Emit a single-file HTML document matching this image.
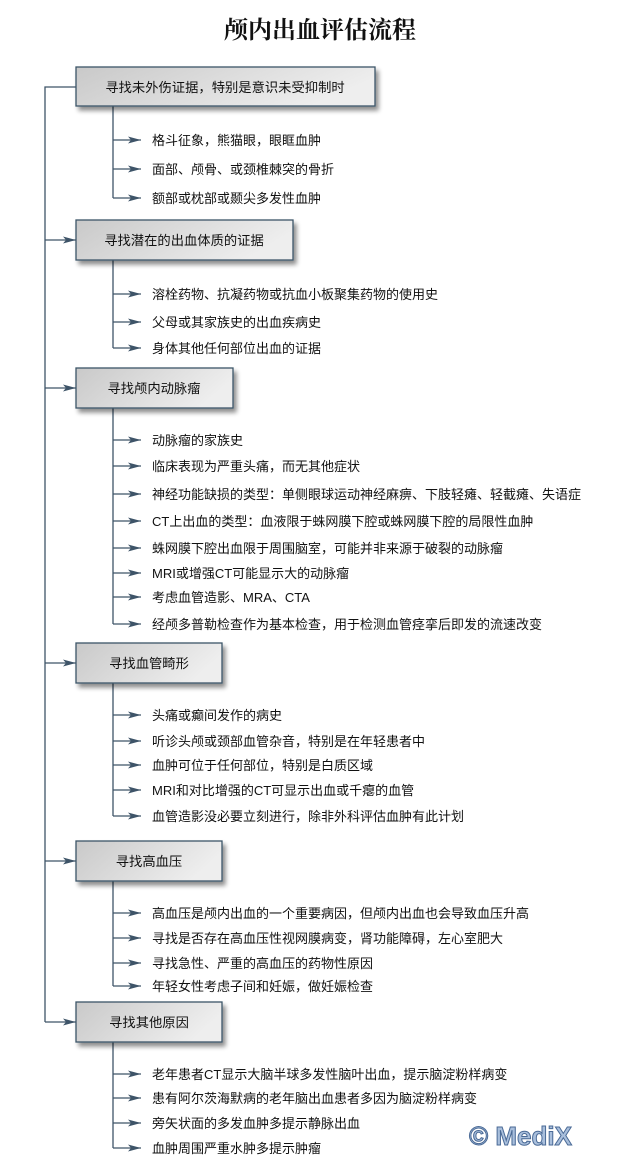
<!DOCTYPE html>
<html><head><meta charset="utf-8"><style>
html,body{margin:0;padding:0;background:#fff;}
svg text{font-family:"Liberation Sans","Noto Sans CJK SC",sans-serif;}
</style></head><body>
<svg width="642" height="1166" viewBox="0 0 642 1166" xmlns="http://www.w3.org/2000/svg">
<defs>
<linearGradient id="g" x1="0" y1="0" x2="1" y2="0.3">
<stop offset="0" stop-color="#c9c9c9"/><stop offset="1" stop-color="#eeeeee"/>
</linearGradient>
<filter id="s" x="-10%" y="-20%" width="130%" height="160%">
<feGaussianBlur in="SourceAlpha" stdDeviation="2.5"/><feOffset dx="3" dy="4"/>
<feComponentTransfer><feFuncA type="linear" slope="0.45"/></feComponentTransfer>
<feMerge><feMergeNode/><feMergeNode in="SourceGraphic"/></feMerge>
</filter>
<marker id="a" markerWidth="14" markerHeight="10" refX="13" refY="5" orient="auto" markerUnits="userSpaceOnUse">
<path d="M0,1.5 L13,5 L0,8.5 L3,5 Z" fill="#3e5468"/>
</marker>
</defs>
<text x="320" y="38" text-anchor="middle" font-size="24" font-weight="bold" style='font-family:"Liberation Serif","Noto Serif CJK SC",serif' fill="#111">颅内出血评估流程</text>
<g stroke="#3e5468" stroke-width="1.3" fill="none">
<path d="M45,1022 V87 H76"/>
<path d="M45,240 H76" marker-end="url(#a)"/>
<path d="M45,388 H76" marker-end="url(#a)"/>
<path d="M45,663 H76" marker-end="url(#a)"/>
<path d="M45,861 H76" marker-end="url(#a)"/>
<path d="M45,1022 H76" marker-end="url(#a)"/>
<path d="M113,106 V198"/><path d="M113,260 V348"/><path d="M113,408 V624"/>
<path d="M113,683 V816"/><path d="M113,881 V986"/><path d="M113,1042 V1148"/>
</g>
<g stroke="#3e5468" stroke-width="1.3" marker-end="url(#a)">
<path d="M113,140 H141"/><path d="M113,169 H141"/><path d="M113,198 H141"/>
<path d="M113,294 H141"/><path d="M113,322 H141"/><path d="M113,348 H141"/>
<path d="M113,440 H141"/><path d="M113,466 H141"/><path d="M113,494 H141"/><path d="M113,521 H141"/><path d="M113,548 H141"/><path d="M113,573 H141"/><path d="M113,597 H141"/><path d="M113,624 H141"/>
<path d="M113,715 H141"/><path d="M113,741 H141"/><path d="M113,765 H141"/><path d="M113,790 H141"/><path d="M113,816 H141"/>
<path d="M113,913 H141"/><path d="M113,938 H141"/><path d="M113,963 H141"/><path d="M113,986 H141"/>
<path d="M113,1074 H141"/><path d="M113,1098 H141"/><path d="M113,1123 H141"/><path d="M113,1148 H141"/>
</g>
<g stroke="#3e5468" stroke-width="1.3" fill="url(#g)" filter="url(#s)">
<rect x="76" y="67" width="299" height="39"/>
<rect x="76" y="220" width="217" height="40"/>
<rect x="76" y="368" width="157" height="40"/>
<rect x="76" y="643" width="146" height="40"/>
<rect x="76" y="841" width="146" height="40"/>
<rect x="76" y="1002" width="146" height="40"/>
</g>
<g font-size="13.3" fill="#111" text-anchor="middle">
<text x="225" y="92">寻找未外伤证据，特别是意识未受抑制时</text>
<text x="184" y="245">寻找潜在的出血体质的证据</text>
<text x="154" y="393">寻找颅内动脉瘤</text>
<text x="149" y="668">寻找血管畸形</text>
<text x="149" y="866">寻找高血压</text>
<text x="149" y="1027">寻找其他原因</text>
</g>
<g font-size="13" fill="#111">
<text x="152" y="145">格斗征象，熊猫眼，眼眶血肿</text>
<text x="152" y="174">面部、颅骨、或颈椎棘突的骨折</text>
<text x="152" y="203">额部或枕部或颞尖多发性血肿</text>
<text x="152" y="299">溶栓药物、抗凝药物或抗血小板聚集药物的使用史</text>
<text x="152" y="327">父母或其家族史的出血疾病史</text>
<text x="152" y="353">身体其他任何部位出血的证据</text>
<text x="152" y="445">动脉瘤的家族史</text>
<text x="152" y="471">临床表现为严重头痛，而无其他症状</text>
<text x="152" y="499">神经功能缺损的类型：单侧眼球运动神经麻痹、下肢轻瘫、轻截瘫、失语症</text>
<text x="152" y="526">CT上出血的类型：血液限于蛛网膜下腔或蛛网膜下腔的局限性血肿</text>
<text x="152" y="553">蛛网膜下腔出血限于周围脑室，可能并非来源于破裂的动脉瘤</text>
<text x="152" y="578">MRI或增强CT可能显示大的动脉瘤</text>
<text x="152" y="602">考虑血管造影、MRA、CTA</text>
<text x="152" y="629">经颅多普勒检查作为基本检查，用于检测血管痉挛后即发的流速改变</text>
<text x="152" y="720">头痛或癫间发作的病史</text>
<text x="152" y="746">听诊头颅或颈部血管杂音，特别是在年轻患者中</text>
<text x="152" y="770">血肿可位于任何部位，特别是白质区域</text>
<text x="152" y="795">MRI和对比增强的CT可显示出血或千瘪的血管</text>
<text x="152" y="821">血管造影没必要立刻进行，除非外科评估血肿有此计划</text>
<text x="152" y="918">高血压是颅内出血的一个重要病因，但颅内出血也会导致血压升高</text>
<text x="152" y="943">寻找是否存在高血压性视网膜病变，肾功能障碍，左心室肥大</text>
<text x="152" y="968">寻找急性、严重的高血压的药物性原因</text>
<text x="152" y="991">年轻女性考虑子间和妊娠，做妊娠检查</text>
<text x="152" y="1079">老年患者CT显示大脑半球多发性脑叶出血，提示脑淀粉样病变</text>
<text x="152" y="1103">患有阿尔茨海默病的老年脑出血患者多因为脑淀粉样病变</text>
<text x="152" y="1128">旁矢状面的多发血肿多提示静脉出血</text>
<text x="152" y="1153">血肿周围严重水肿多提示肿瘤</text>
</g>
<text x="469" y="1145" font-size="26" font-weight="bold" fill="#a9bfdc" stroke="#4a6a96" stroke-width="1">© MediX</text>
</svg>
</body></html>
